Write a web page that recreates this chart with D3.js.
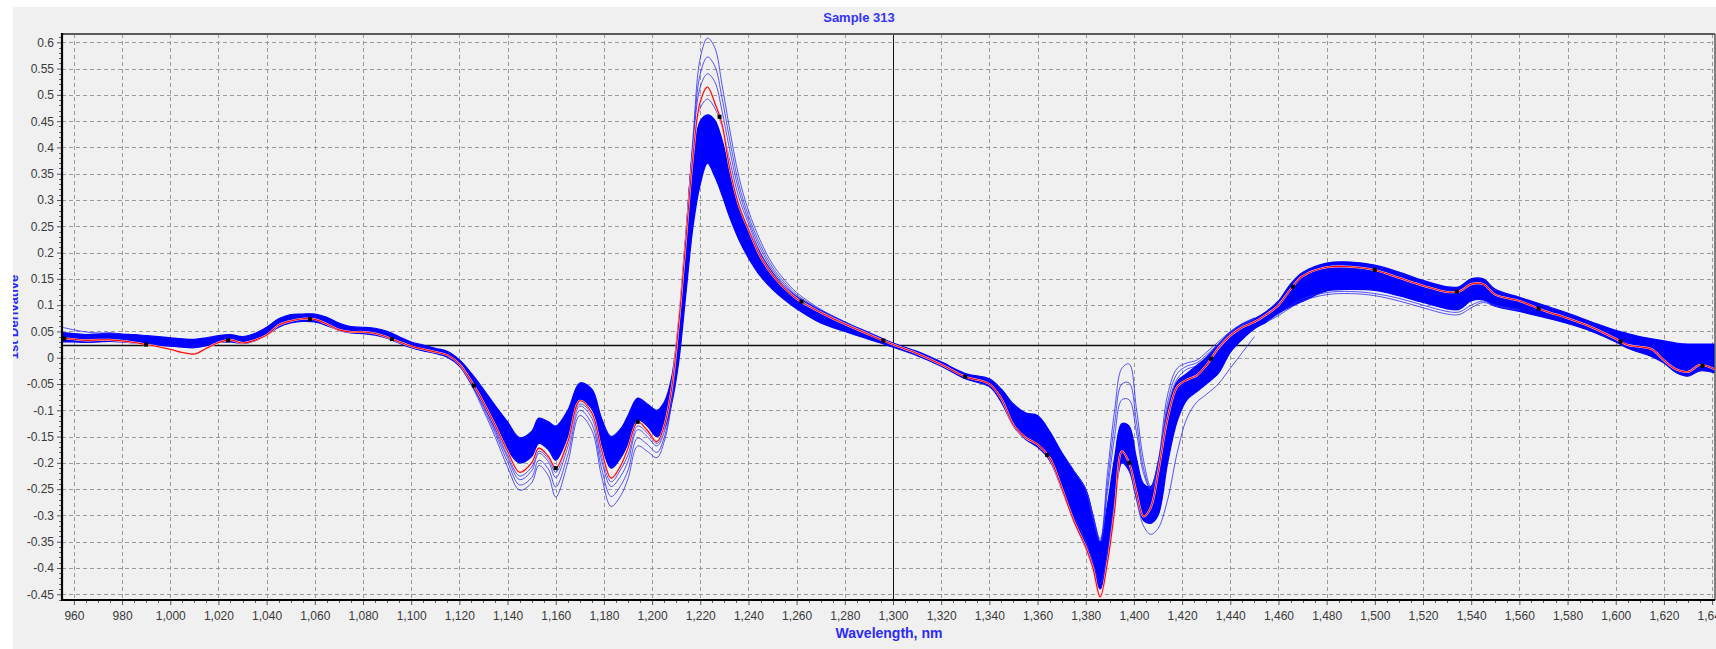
<!DOCTYPE html>
<html>
<head>
<meta charset="utf-8">
<script src="https://cdn.jsdelivr.net/npm/d3@7"></script>
<style>
  html, body { margin: 0; padding: 0; background: #ffffff; }
  svg { display: block; font-family: "Liberation Sans", Arial, sans-serif; }
</style>
</head>
<body>
<svg id="chart" width="1716" height="649"></svg>
<script>
// ---- Spectral data (1st derivative, nm) ----
const wavelengths = [
  955, 960, 965, 970, 975, 980, 985, 990, 995, 1000,
  1005, 1010, 1015, 1020, 1025, 1030, 1035, 1040, 1045, 1050,
  1055, 1060, 1065, 1070, 1075, 1080, 1085, 1090, 1095, 1100,
  1105, 1110, 1115, 1120, 1125, 1130, 1135, 1140, 1145, 1150,
  1153, 1157, 1160, 1165, 1170, 1175, 1179, 1183, 1187, 1190,
  1194, 1198, 1202, 1205, 1208, 1211, 1214, 1217, 1220, 1223,
  1226, 1229, 1232, 1236, 1240, 1245, 1250, 1255, 1260, 1270,
  1280, 1290, 1300, 1310, 1320, 1330, 1340, 1345, 1350, 1355,
  1360, 1365, 1370, 1375, 1380, 1383, 1386, 1389, 1392, 1395,
  1398, 1401, 1404, 1407, 1410, 1414, 1418, 1422, 1426, 1430,
  1435, 1440, 1445, 1450, 1455, 1460, 1465, 1470, 1480, 1490,
  1500, 1510, 1520, 1530, 1535, 1540, 1545, 1550, 1560, 1570,
  1580, 1590, 1600, 1605, 1610, 1615, 1620, 1625, 1630, 1635,
  1642
];

// Highlighted spectrum (Sample 313)
const selectedSample = [
  0.037, 0.035, 0.033, 0.034, 0.034, 0.032, 0.029, 0.025, 0.021, 0.016,
  0.010, 0.007, 0.018, 0.029, 0.034, 0.028, 0.033, 0.043, 0.062, 0.070,
  0.074, 0.073, 0.064, 0.053, 0.049, 0.049, 0.046, 0.039, 0.030, 0.022,
  0.016, 0.011, 0.005, -0.012, -0.045, -0.085, -0.130, -0.178, -0.218, -0.200,
  -0.172, -0.188, -0.210, -0.160, -0.082, -0.105, -0.175, -0.229, -0.205, -0.172,
  -0.122, -0.138, -0.160, -0.130, -0.062, 0.062, 0.222, 0.385, 0.487, 0.515,
  0.485, 0.445, 0.365, 0.290, 0.244, 0.192, 0.157, 0.132, 0.112, 0.086,
  0.064, 0.044, 0.025, 0.008, -0.013, -0.036, -0.050, -0.078, -0.128, -0.152,
  -0.165, -0.190, -0.247, -0.310, -0.360, -0.400, -0.455, -0.390, -0.290, -0.178,
  -0.200, -0.255, -0.302, -0.285, -0.220, -0.115, -0.055, -0.042, -0.034, -0.015,
  0.018, 0.042, 0.058, 0.068, 0.082, 0.100, 0.130, 0.155, 0.172, 0.173,
  0.167, 0.152, 0.137, 0.125, 0.126, 0.140, 0.140, 0.120, 0.108, 0.090,
  0.075, 0.058, 0.036, 0.024, 0.021, 0.016, -0.005, -0.022, -0.027, -0.014,
  -0.024
];

// Upper and lower limits of the dense bundle of sample spectra
const bundleUpper = [
  0.048, 0.046, 0.044, 0.045, 0.047, 0.045, 0.044, 0.042, 0.040, 0.038,
  0.036, 0.035, 0.038, 0.042, 0.044, 0.040, 0.046, 0.058, 0.074, 0.082,
  0.083, 0.083, 0.077, 0.066, 0.059, 0.058, 0.056, 0.050, 0.040, 0.030,
  0.024, 0.018, 0.012, -0.004, -0.030, -0.060, -0.092, -0.122, -0.152, -0.140,
  -0.115, -0.122, -0.130, -0.100, -0.048, -0.060, -0.115, -0.150, -0.135, -0.110,
  -0.077, -0.088, -0.100, -0.085, -0.040, 0.070, 0.235, 0.390, 0.450, 0.462,
  0.452, 0.415, 0.360, 0.290, 0.245, 0.197, 0.162, 0.135, 0.116, 0.090,
  0.068, 0.048, 0.028, 0.012, -0.008, -0.030, -0.040, -0.060, -0.088, -0.105,
  -0.110, -0.140, -0.180, -0.215, -0.250, -0.300, -0.350, -0.280, -0.190, -0.125,
  -0.130, -0.190, -0.240, -0.245, -0.200, -0.100, -0.045, -0.030, -0.015, 0.000,
  0.025, 0.048, 0.064, 0.074, 0.088, 0.108, 0.140, 0.162, 0.180, 0.182,
  0.176, 0.163, 0.147, 0.135, 0.135, 0.150, 0.150, 0.130, 0.115, 0.100,
  0.085, 0.068, 0.052, 0.046, 0.040, 0.036, 0.032, 0.028, 0.026, 0.026,
  0.026
];
const bundleLower = [
  0.030, 0.030, 0.029, 0.030, 0.031, 0.030, 0.028, 0.026, 0.024, 0.022,
  0.020, 0.019, 0.023, 0.029, 0.030, 0.027, 0.032, 0.043, 0.058, 0.066,
  0.069, 0.068, 0.061, 0.052, 0.047, 0.046, 0.043, 0.037, 0.028, 0.019,
  0.013, 0.008, 0.001, -0.016, -0.050, -0.090, -0.135, -0.175, -0.200, -0.188,
  -0.163, -0.175, -0.195, -0.150, -0.082, -0.098, -0.165, -0.210, -0.190, -0.163,
  -0.118, -0.130, -0.150, -0.135, -0.090, -0.010, 0.120, 0.250, 0.330, 0.370,
  0.345, 0.310, 0.270, 0.225, 0.190, 0.155, 0.130, 0.110, 0.093, 0.066,
  0.050, 0.035, 0.020, 0.004, -0.016, -0.040, -0.055, -0.085, -0.130, -0.155,
  -0.170, -0.195, -0.250, -0.310, -0.362, -0.400, -0.440, -0.380, -0.280, -0.200,
  -0.215, -0.265, -0.310, -0.315, -0.300, -0.200, -0.120, -0.080, -0.065, -0.050,
  -0.030, 0.010, 0.035, 0.055, 0.068, 0.085, 0.097, 0.107, 0.127, 0.130,
  0.128, 0.118, 0.105, 0.093, 0.092, 0.108, 0.110, 0.098, 0.088, 0.077,
  0.065, 0.050, 0.030, 0.018, 0.010, 0.002, -0.010, -0.028, -0.035, -0.025,
  -0.030
];

// Individual spectra that stand out from the bundle, 1120-1300 nm
const peakRegionNm = [
  1120, 1125, 1130, 1135, 1140, 1145, 1150, 1153, 1157, 1160,
  1165, 1170, 1175, 1179, 1183, 1187, 1190, 1194, 1198, 1202,
  1205, 1208, 1211, 1214, 1217, 1220, 1223, 1226, 1229, 1232,
  1236, 1240, 1245, 1250, 1255, 1260, 1270, 1280, 1290, 1300
];
const peakSample1 = [
  -0.013, -0.052, -0.100, -0.152, -0.208, -0.252, -0.238, -0.205, -0.225, -0.265,
  -0.200, -0.110, -0.138, -0.225, -0.283, -0.262, -0.230, -0.168, -0.178, -0.190,
  -0.160, -0.090, 0.050, 0.230, 0.420, 0.570, 0.608, 0.590, 0.520, 0.440,
  0.345, 0.280, 0.222, 0.178, 0.148, 0.124, 0.092, 0.068, 0.047, 0.027
];
const peakSample2 = [
  -0.013, -0.050, -0.095, -0.145, -0.198, -0.242, -0.228, -0.195, -0.212, -0.246,
  -0.185, -0.100, -0.126, -0.210, -0.264, -0.243, -0.214, -0.153, -0.165, -0.180,
  -0.152, -0.085, 0.055, 0.230, 0.410, 0.540, 0.572, 0.555, 0.495, 0.420,
  0.330, 0.270, 0.214, 0.172, 0.143, 0.120, 0.090, 0.067, 0.046, 0.027
];
const peakSample3 = [
  -0.012, -0.048, -0.090, -0.140, -0.190, -0.232, -0.215, -0.182, -0.198, -0.228,
  -0.170, -0.092, -0.115, -0.195, -0.245, -0.225, -0.197, -0.137, -0.150, -0.168,
  -0.142, -0.075, 0.060, 0.230, 0.405, 0.515, 0.540, 0.525, 0.470, 0.400,
  0.318, 0.262, 0.207, 0.167, 0.139, 0.117, 0.088, 0.066, 0.046, 0.026
];
const peakSample4 = [
  -0.012, -0.046, -0.087, -0.135, -0.185, -0.225, -0.208, -0.178, -0.192, -0.218,
  -0.158, -0.088, -0.108, -0.185, -0.236, -0.212, -0.185, -0.130, -0.143, -0.163,
  -0.135, -0.070, 0.062, 0.228, 0.400, 0.475, 0.492, 0.475, 0.440, 0.380,
  0.305, 0.255, 0.200, 0.162, 0.135, 0.115, 0.087, 0.065, 0.045, 0.026
];

// Spectra that stand out around the 1400 nm water band
const waterRegionNm = [
  1375, 1380, 1383, 1386, 1389, 1392, 1395, 1398, 1401, 1404,
  1407, 1410, 1414, 1418, 1422, 1426, 1430, 1435, 1440, 1445, 1450
];
const waterSample1 = [
  -0.215, -0.250, -0.300, -0.345, -0.220, -0.100, -0.020, -0.012, -0.095, -0.195,
  -0.245, -0.200, -0.070, -0.020, -0.010, -0.005, 0.010, 0.030, 0.050, 0.065, 0.076
];
const waterSample2 = [
  -0.215, -0.250, -0.305, -0.350, -0.240, -0.125, -0.050, -0.048, -0.120, -0.210,
  -0.250, -0.210, -0.085, -0.030, -0.016, -0.010, 0.005, 0.026, 0.048, 0.063, 0.074
];
const waterSample3 = [
  -0.215, -0.250, -0.305, -0.350, -0.255, -0.150, -0.080, -0.080, -0.140, -0.220,
  -0.250, -0.215, -0.095, -0.040, -0.022, -0.015, 0.002, 0.024, 0.046, 0.062, 0.073
];
const waterSample4 = [
  -0.300, -0.350, -0.390, -0.430, -0.370, -0.270, -0.200, -0.215, -0.270, -0.320,
  -0.336, -0.325, -0.270, -0.180, -0.115, -0.085, -0.070, -0.050, -0.020, 0.010, 0.040
];

// Low-lying spectra on the 1480-1550 nm plateau
const plateauNm = [1455, 1460, 1465, 1470, 1480, 1490, 1500, 1510, 1520, 1530, 1535, 1540, 1545, 1550, 1560];
const plateauSample1 = [0.068, 0.080, 0.095, 0.108, 0.120, 0.122, 0.118, 0.108, 0.095, 0.083, 0.082, 0.095, 0.105, 0.098, 0.090];
const plateauSample2 = [0.070, 0.083, 0.099, 0.112, 0.124, 0.126, 0.122, 0.113, 0.100, 0.088, 0.087, 0.100, 0.108, 0.100, 0.092];

// High spectrum at the short-wavelength edge
const edgeNm = [955, 960, 965, 970, 975, 980];
const edgeSample = [0.058, 0.053, 0.049, 0.047, 0.047, 0.045];

// Point markers along the highlighted spectrum
const markerNm = [956, 990, 1024, 1058, 1092, 1126, 1160, 1194, 1228, 1262, 1296,
                  1330, 1364, 1398, 1432, 1466, 1500, 1534, 1568, 1602, 1636];

// Cursor position
const cursorNm = 1300;
const cursorValue = 0.023;

// Axis ticks
const xTickValues = [960, 980, 1000, 1020, 1040, 1060, 1080, 1100, 1120, 1140, 1160, 1180,
  1200, 1220, 1240, 1260, 1280, 1300, 1320, 1340, 1360, 1380, 1400, 1420, 1440, 1460,
  1480, 1500, 1520, 1540, 1560, 1580, 1600, 1620, 1640];
const yTickValues = [0.6, 0.55, 0.5, 0.45, 0.4, 0.35, 0.3, 0.25, 0.2, 0.15, 0.1, 0.05, 0,
  -0.05, -0.1, -0.15, -0.2, -0.25, -0.3, -0.35, -0.4, -0.45];

// ---- Layout ----
const W = 1716, H = 649;
const plot = { left: 62, right: 1715, top: 34, bottom: 600 };

const svg = d3.select("#chart");

const x = d3.scaleLinear().domain([955.06, 1641.2]).range([plot.left, plot.right]);
const y = d3.scaleLinear().domain([-0.4609, 0.6158]).range([plot.bottom, plot.top]);

// Background
svg.append("rect").attr("width", W).attr("height", H).attr("fill", "#f0f0f0");

// Clip for data
svg.append("defs").append("clipPath").attr("id", "plot-clip")
  .append("rect")
  .attr("x", plot.left).attr("y", plot.top)
  .attr("width", plot.right - plot.left).attr("height", plot.bottom - plot.top);

// Grid
const grid = svg.append("g").attr("stroke", "#9a9a9a").attr("stroke-width", 1)
  .attr("stroke-dasharray", "4,3").attr("fill", "none");
grid.selectAll("line.gx").data(xTickValues).join("line")
  .attr("x1", d => Math.round(x(d)) + 0.5).attr("x2", d => Math.round(x(d)) + 0.5)
  .attr("y1", plot.top).attr("y2", plot.bottom);
grid.selectAll("line.gy").data(yTickValues).join("line")
  .attr("y1", d => Math.round(y(d)) + 0.5).attr("y2", d => Math.round(y(d)) + 0.5)
  .attr("x1", plot.left).attr("x2", plot.right);

// Cursor cross
const cursor = svg.append("g").attr("clip-path", "url(#plot-clip)");
cursor.append("line")
  .attr("x1", Math.round(x(cursorNm)) + 0.5).attr("x2", Math.round(x(cursorNm)) + 0.5)
  .attr("y1", plot.top).attr("y2", plot.bottom)
  .attr("stroke", "#111").attr("stroke-width", 1);
cursor.append("line")
  .attr("x1", plot.left).attr("x2", plot.right)
  .attr("y1", y(cursorValue)).attr("y2", y(cursorValue))
  .attr("stroke", "#111").attr("stroke-width", 1.5);

// Data layer
const data = svg.append("g").attr("clip-path", "url(#plot-clip)");
const curve = d3.curveCatmullRom.alpha(0.5);

const bundleRows = wavelengths.map((nm, i) => ({ nm, lo: bundleLower[i], hi: bundleUpper[i] }));
data.append("path")
  .datum(bundleRows)
  .attr("d", d3.area().curve(curve).x(d => x(d.nm)).y0(d => y(d.lo)).y1(d => y(d.hi)))
  .attr("fill", "#0000ff")
  .attr("stroke", "#0000ff")
  .attr("stroke-width", 1.2);

const line = d3.line().curve(curve).x(d => x(d[0])).y(d => y(d[1]));
const pairs = (xs, ys) => xs.map((v, i) => [v, ys[i]]);

const outlierSeries = [
  pairs(peakRegionNm, peakSample1), pairs(peakRegionNm, peakSample2),
  pairs(peakRegionNm, peakSample3), pairs(peakRegionNm, peakSample4),
  pairs(waterRegionNm, waterSample1), pairs(waterRegionNm, waterSample2),
  pairs(waterRegionNm, waterSample3), pairs(waterRegionNm, waterSample4),
  pairs(plateauNm, plateauSample1), pairs(plateauNm, plateauSample2),
  pairs(edgeNm, edgeSample)
];
data.selectAll("path.outlier").data(outlierSeries).join("path")
  .attr("class", "outlier")
  .attr("d", line)
  .attr("fill", "none")
  .attr("stroke", "#2b2bff")
  .attr("stroke-opacity", 0.8)
  .attr("stroke-width", 1);

const selected = pairs(wavelengths, selectedSample);
data.append("path").datum(selected).attr("d", line)
  .attr("fill", "none").attr("stroke", "#ffc8c8").attr("stroke-width", 2.1);
data.append("path").datum(selected).attr("d", line)
  .attr("fill", "none").attr("stroke", "#ff0000").attr("stroke-width", 1.1);

// Markers sit on the highlighted spectrum
const valueAt = nm => {
  const i = d3.bisectLeft(wavelengths, nm);
  if (i <= 0) return selectedSample[0];
  const x0 = wavelengths[i - 1], x1 = wavelengths[i];
  const t = (nm - x0) / (x1 - x0);
  return selectedSample[i - 1] + t * (selectedSample[i] - selectedSample[i - 1]);
};
data.selectAll("rect.marker").data(markerNm).join("rect")
  .attr("class", "marker")
  .attr("x", d => x(d) - 2).attr("y", d => y(valueAt(d)) - 2)
  .attr("width", 4).attr("height", 4)
  .attr("fill", "#000");

// Axes
const fmtY = d => String(+d.toFixed(2));
const yAxis = svg.append("g").attr("transform", `translate(${plot.left},0)`)
  .call(d3.axisLeft(y).tickValues(yTickValues).tickFormat(fmtY).tickSize(5).tickPadding(3));
const xAxis = svg.append("g").attr("transform", `translate(0,${plot.bottom})`)
  .call(d3.axisBottom(x).tickValues(xTickValues).tickFormat(d3.format(",")).tickSize(5).tickPadding(6));
[yAxis, xAxis].forEach(a => {
  a.select(".domain").remove();
  a.selectAll(".tick line").attr("stroke", "#555");
  a.selectAll(".tick text")
    .attr("fill", "#3a3a3a")
    .style("font-size", "12px")
    .style("font-family", "'Liberation Sans', Arial, sans-serif");
});

// Minor ticks
const minorX = d3.range(955, 1642, 5).filter(v => v % 20 !== 0 && v >= 956);
svg.append("g").selectAll("line").data(minorX).join("line")
  .attr("x1", d => Math.round(x(d)) + 0.5).attr("x2", d => Math.round(x(d)) + 0.5)
  .attr("y1", plot.bottom).attr("y2", plot.bottom + 3)
  .attr("stroke", "#666");
const minorY = d3.range(-46, 62, 1).map(v => v / 100).filter(v => Math.abs(v * 20 - Math.round(v * 20)) > 1e-6);
svg.append("g").selectAll("line").data(minorY).join("line")
  .attr("y1", d => Math.round(y(d)) + 0.5).attr("y2", d => Math.round(y(d)) + 0.5)
  .attr("x1", plot.left - 3).attr("x2", plot.left)
  .attr("stroke", "#666");

// Frame
svg.append("line").attr("x1", plot.left).attr("x2", plot.right)
  .attr("y1", plot.top).attr("y2", plot.top).attr("stroke", "#5a5a5a").attr("stroke-width", 2);
svg.append("line").attr("x1", plot.right).attr("x2", plot.right)
  .attr("y1", plot.top).attr("y2", plot.bottom).attr("stroke", "#5a5a5a").attr("stroke-width", 1.5);
svg.append("line").attr("x1", plot.left).attr("x2", plot.left)
  .attr("y1", plot.top - 1).attr("y2", plot.bottom + 1).attr("stroke", "#000").attr("stroke-width", 2.2);
svg.append("line").attr("x1", plot.left - 1).attr("x2", plot.right)
  .attr("y1", plot.bottom).attr("y2", plot.bottom).attr("stroke", "#000").attr("stroke-width", 2.2);

// Titles
svg.append("text")
  .attr("x", 859).attr("y", 21.5)
  .attr("text-anchor", "middle")
  .attr("fill", "#3333ff")
  .style("font-size", "13px").style("font-weight", "bold")
  .text("Sample 313");
svg.append("text")
  .attr("x", 889).attr("y", 638)
  .attr("text-anchor", "middle")
  .attr("fill", "#2a2aff")
  .style("font-size", "14px").style("font-weight", "bold")
  .text("Wavelength, nm");
svg.append("text")
  .attr("transform", "translate(17.5,317) rotate(-90)")
  .attr("text-anchor", "middle")
  .attr("fill", "#2a2aff")
  .style("font-size", "13px").style("font-weight", "bold")
  .text("1st Derivative");

// White page margins
svg.append("rect").attr("x", 0).attr("y", 0).attr("width", W).attr("height", 7).attr("fill", "#ffffff");
svg.append("rect").attr("x", 0).attr("y", 0).attr("width", 13).attr("height", H).attr("fill", "#ffffff");
</script>
</body>
</html>
